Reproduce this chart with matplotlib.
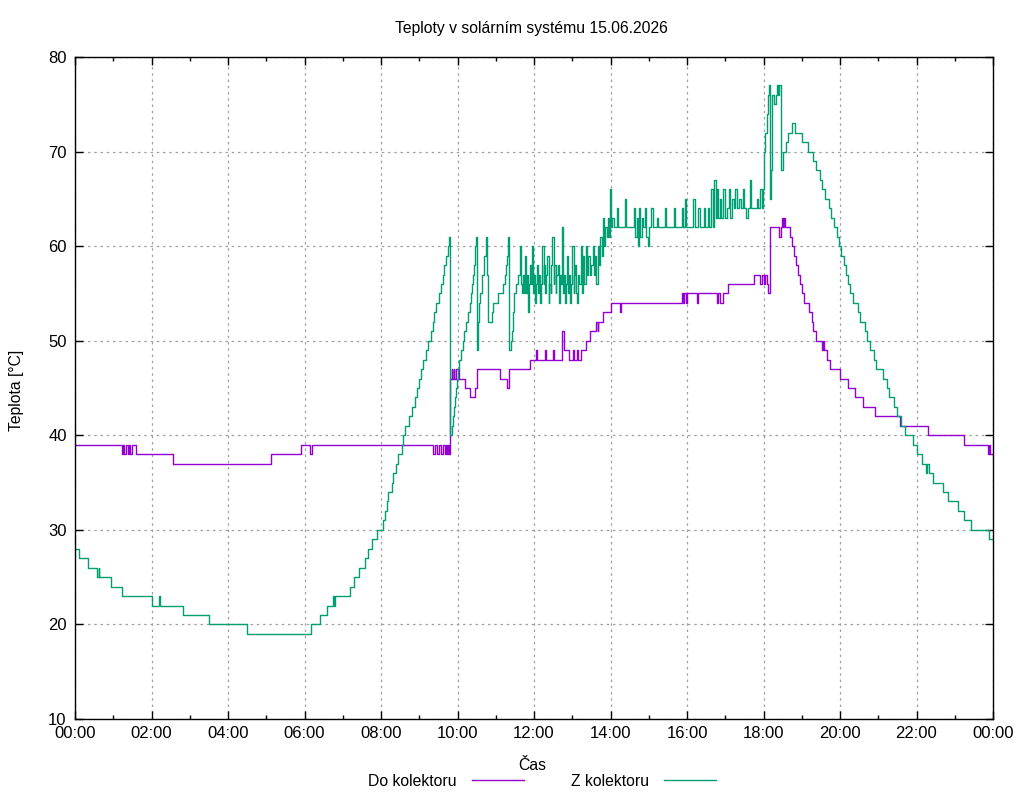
import matplotlib
matplotlib.use("Agg")
import matplotlib.pyplot as plt
from matplotlib.ticker import MultipleLocator, FuncFormatter

plt.rcParams["font.family"] = ["Liberation Sans", "DejaVu Sans"]

TITLE = "Teploty v solárním systému 15.06.2026"
X_LABEL = "Čas"
Y_LABEL = "Teplota [°C]"
LABEL_DO = "Do kolektoru"
LABEL_Z = "Z kolektoru"
COLOR_DO = "#9400d3"
COLOR_Z = "#009e73"

# (minute of day, °C) - value holds until the next entry
DO_KOLEKTORU = [
    (0, 39), (74, 38), (76, 39), (77, 38), (80, 39), (83, 38), (85, 39), (86, 38),
    (89, 39), (96, 38), (154, 37), (307, 38), (354, 39), (369, 38), (372, 39),
    (562, 38), (565, 39), (568, 38), (571, 39), (574, 38), (577, 39), (580, 38),
    (582, 39), (583, 38), (585, 39), (586, 38),
    (589, 46), (591, 47), (592, 46), (594, 47), (595, 46), (597, 47), (602, 46),
    (612, 45), (620, 44), (627, 45), (631, 47), (667, 46), (678, 45), (681, 47),
    (714, 48), (723, 49), (725, 48), (737, 49), (739, 48), (750, 49), (752, 48),
    (764, 51), (767, 49), (775, 48), (781, 49), (783, 48), (787, 49), (789, 48),
    (794, 49), (802, 50), (808, 51), (817, 52), (820, 51), (821, 52), (828, 53),
    (841, 54), (855, 53), (857, 54),
    (952, 55), (954, 54), (956, 55), (958, 54), (960, 55), (976, 54), (978, 55),
    (1007, 54), (1009, 55), (1012, 54), (1016, 55),
    (1024, 56), (1065, 57), (1075, 56), (1077, 57), (1081, 56), (1083, 57),
    (1085, 56), (1087, 55),
    (1090, 62), (1104, 61), (1107, 62), (1109, 63), (1111, 62), (1112, 63),
    (1114, 62), (1122, 61), (1125, 60), (1128, 59), (1131, 58), (1134, 57),
    (1137, 56), (1140, 55), (1143, 54), (1152, 53), (1156, 52), (1158, 51),
    (1163, 50), (1171, 49), (1173, 50), (1175, 49), (1179, 48), (1184, 47),
    (1200, 46), (1213, 45), (1224, 44), (1236, 43), (1255, 42), (1294, 41),
    (1338, 40), (1394, 39), (1432, 38), (1434, 39), (1435, 38), (1440, 38),
]

Z_KOLEKTORU = [
    (0, 28), (7, 27), (20, 26), (35, 25), (37, 26), (38, 25), (56, 24), (74, 23),
    (121, 22), (132, 23), (134, 22), (169, 21), (210, 20), (270, 19),
    (370, 20), (385, 21), (395, 22), (405, 23), (406, 22), (408, 23), (431, 24),
    (438, 25), (445, 26), (455, 27), (460, 28), (466, 29), (474, 30), (483, 31),
    (486, 32), (489, 33), (491, 34), (497, 35), (499, 36), (504, 37), (507, 38),
    (513, 39), (515, 40), (518, 41), (524, 42), (528, 43), (533, 44), (536, 45),
    (540, 46), (543, 47), (546, 48), (551, 49), (554, 50), (558, 51), (562, 52),
    (563, 53), (566, 54), (571, 55), (574, 56), (577, 57), (579, 58), (582, 59),
    (585, 60), (587, 61), (588, 53), (589, 40),
    (591, 41), (593, 42), (594, 43), (596, 44), (598, 45), (599, 46), (601, 47),
    (602, 48), (605, 49), (609, 50), (610, 51), (613, 52), (616, 53), (620, 54),
    (621, 55), (623, 56), (624, 57), (626, 58), (627, 60), (629, 61), (630, 49),
    (632, 52), (634, 54), (635, 55), (638, 57), (642, 59), (645, 61), (646, 57),
    (648, 52), (654, 53), (656, 54), (664, 55), (671, 56), (675, 57), (676, 58),
    (678, 59), (679, 61), (681, 49), (684, 50), (685, 51), (687, 53), (689, 55),
    (692, 56), (695, 57), (698, 60),
    (700, 56), (701, 55), (703, 57), (704, 55), (706, 59), (708, 55), (709, 57),
    (711, 53), (712, 56), (714, 58), (715, 56), (717, 60), (719, 55), (720, 57),
    (722, 54), (723, 56), (725, 58), (727, 55), (728, 57), (730, 54), (731, 56),
    (733, 60), (735, 56), (736, 58), (738, 55), (739, 57), (741, 59), (743, 54),
    (744, 56), (746, 55), (747, 58), (749, 61), (751, 56), (752, 58), (754, 55),
    (755, 57), (757, 58), (759, 54), (760, 57), (762, 56), (764, 62), (766, 55),
    (767, 57), (769, 54), (770, 56), (772, 59), (774, 55), (775, 57), (777, 54),
    (778, 56), (780, 60), (782, 55), (783, 57), (785, 58), (786, 55), (788, 54),
    (789, 57), (790, 56), (793, 60), (795, 55), (797, 59), (799, 56), (801, 60),
    (803, 57), (805, 59), (808, 57),
    (810, 58), (812, 60), (814, 57), (816, 59), (818, 56), (820, 60), (822, 58),
    (824, 61), (826, 59), (828, 63), (830, 60), (832, 62), (834, 61), (836, 63),
    (838, 61), (839, 66), (841, 62),
    (843, 63), (845, 62), (850, 64), (852, 62), (862, 65), (864, 62), (877, 64),
    (879, 61), (881, 63), (883, 60), (885, 64), (887, 61), (889, 63), (891, 62),
    (894, 64), (896, 61), (899, 60), (901, 62), (904, 64), (906, 62), (913, 63),
    (915, 62), (925, 64), (927, 62), (939, 64), (941, 62), (952, 64), (954, 62),
    (957, 65), (959, 62),
    (970, 65), (972, 62), (978, 64), (980, 62), (986, 64), (988, 62), (993, 64),
    (995, 62), (998, 66), (1000, 62), (1003, 67), (1005, 63), (1007, 66),
    (1009, 63), (1012, 65), (1014, 63), (1017, 66), (1019, 63), (1022, 64),
    (1026, 66), (1028, 63), (1031, 65), (1033, 64), (1036, 66), (1038, 64),
    (1042, 65), (1044, 64), (1048, 66), (1050, 64), (1052, 63), (1056, 64),
    (1059, 67), (1061, 64), (1070, 65), (1072, 64), (1075, 66), (1077, 64),
    (1079, 66), (1080, 70), (1082, 72), (1085, 74), (1087, 76), (1088, 77),
    (1090, 65), (1092, 68), (1093, 73), (1094, 76), (1097, 75), (1099, 76),
    (1101, 77), (1103, 76), (1105, 77),
    (1107, 68), (1111, 70), (1115, 71), (1119, 72), (1124, 73), (1130, 72),
    (1141, 71), (1150, 70), (1158, 69), (1162, 68), (1168, 67), (1172, 66),
    (1176, 65), (1182, 64), (1186, 63), (1190, 62), (1195, 61), (1198, 60),
    (1201, 59), (1207, 58), (1210, 57), (1213, 56), (1216, 55), (1221, 54),
    (1228, 53), (1231, 52), (1239, 51), (1243, 50), (1247, 49), (1253, 48),
    (1256, 47), (1268, 46), (1274, 45), (1277, 44), (1285, 43), (1290, 42),
    (1295, 41), (1302, 40), (1315, 39), (1321, 38), (1329, 37), (1335, 36),
    (1337, 37), (1339, 36), (1346, 35), (1362, 34), (1370, 33), (1385, 32),
    (1394, 31), (1405, 30), (1434, 29), (1440, 29),
]


def split(series):
    hours = [m / 60.0 for m, _ in series]
    vals = [v for _, v in series]
    return hours, vals


fig = plt.figure(figsize=(10.24, 8), dpi=100)
ax = fig.add_axes([75 / 1024, 81 / 800, 918 / 1024, 662 / 800])

h_do, v_do = split(DO_KOLEKTORU)
h_z, v_z = split(Z_KOLEKTORU)
l1, = ax.plot(h_do, v_do, drawstyle="steps-post", color=COLOR_DO, lw=1.0, label=LABEL_DO)
l2, = ax.plot(h_z, v_z, drawstyle="steps-post", color=COLOR_Z, lw=1.0, label=LABEL_Z)

ax.set_xlim(0, 24)
ax.set_ylim(10, 80)
ax.xaxis.set_major_locator(MultipleLocator(2))
ax.xaxis.set_minor_locator(MultipleLocator(1))
ax.yaxis.set_major_locator(MultipleLocator(10))
ax.xaxis.set_major_formatter(FuncFormatter(lambda x, pos: "%02d:00" % (int(round(x)) % 24)))

ax.tick_params(which="both", direction="in", top=True, right=True, labelsize=12,
               width=1, color="black")
ax.tick_params(which="major", length=6, pad=5)
ax.tick_params(which="minor", length=3)
ax.tick_params(axis="y", pad=6)
for s in ax.spines.values():
    s.set_linewidth(1)

ax.grid(True, which="major", color="#a0a0a0", linestyle=(0, (2, 3)), lw=0.9)
ax.set_axisbelow(True)

fig.text(531 / 1024, 1 - 28 / 800, TITLE, ha="center", va="center", fontsize=11.3)
fig.text(532 / 1024, 1 - 765 / 800, X_LABEL, ha="center", va="center", fontsize=11.3)
fig.text(17 / 1024, 1 - 390 / 800, Y_LABEL, ha="center", va="center", rotation=90, fontsize=11.3)

fig.legend(handles=[l1, l2], loc="center", bbox_to_anchor=(542 / 1024, 1 - 781 / 800),
           ncol=2, markerfirst=False, frameon=False, fontsize=11.3,
           handlelength=3.3, columnspacing=3.0, handletextpad=1.0)

fig.savefig("out.png", dpi=100)
